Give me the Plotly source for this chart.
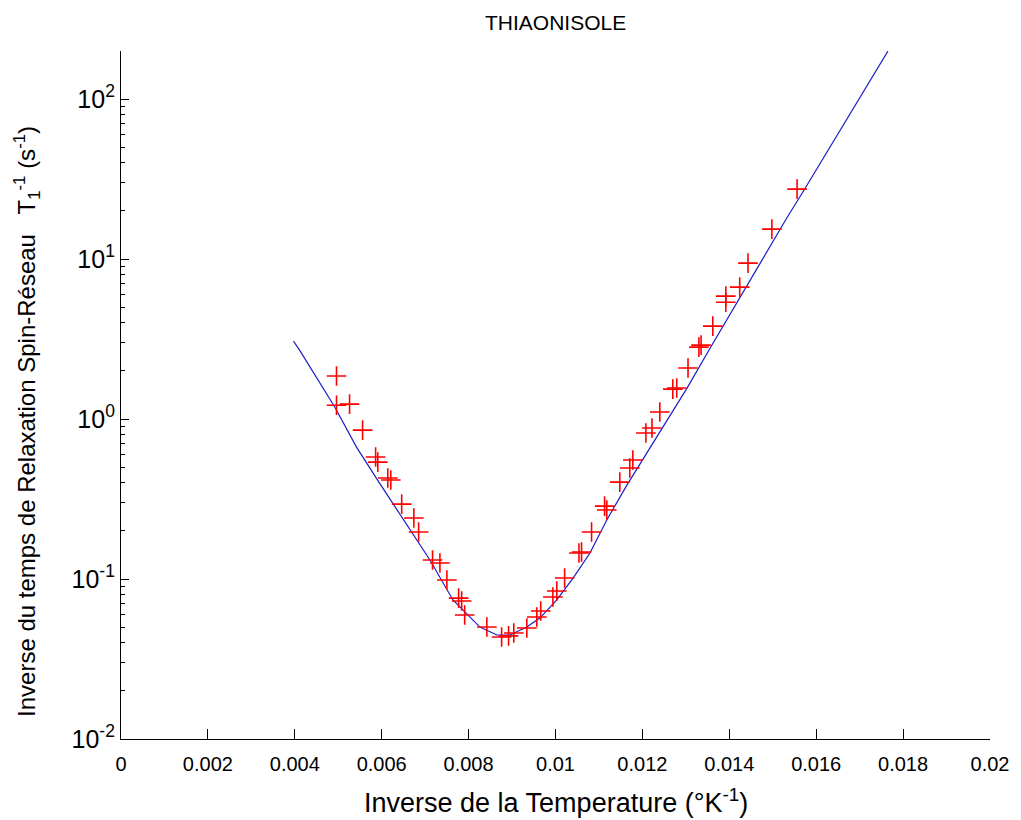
import plotly.graph_objects as go

# Measured relaxation rates (1/T1, s^-1) versus inverse temperature (1/K)
inv_temp = [
    0.00496, 0.00496, 0.00526, 0.00556, 0.00586, 0.00591, 0.00614, 0.00621,
    0.00646, 0.00674, 0.00685, 0.00717, 0.00734, 0.00750, 0.00777, 0.00784,
    0.00791, 0.00842, 0.00876, 0.00892, 0.00904, 0.00934, 0.00957, 0.00966,
    0.00994, 0.01003, 0.01021, 0.01054, 0.01060, 0.01083, 0.01113, 0.01118,
    0.01148, 0.01171, 0.01178, 0.01208, 0.01222, 0.01240, 0.01270, 0.01279,
    0.01305, 0.01330, 0.01335, 0.01362, 0.01392, 0.01392, 0.01424, 0.01443,
    0.01498, 0.01556,
]
rate = [
    1.86, 1.22, 1.24, 0.853, 0.579, 0.538, 0.428, 0.416,
    0.294, 0.241, 0.197, 0.1315, 0.126, 0.0986, 0.076, 0.0729,
    0.0596, 0.0501, 0.0434, 0.0441, 0.046, 0.0494, 0.0579, 0.0631,
    0.0772, 0.0841, 0.1014, 0.1454, 0.1476, 0.197, 0.2858, 0.270,
    0.4036, 0.4943, 0.5546, 0.818, 0.879, 1.107, 1.54, 1.563,
    2.084, 2.818, 2.90, 3.81, 5.38, 5.87, 6.68, 9.44,
    15.4, 27.4,
]

# Fitted model curve
fit_x = [
    0.00397, 0.00411, 0.00492, 0.00542, 0.00595, 0.00641, 0.00681, 0.00711,
    0.00764, 0.00826, 0.00865, 0.00895, 0.00934, 0.00964, 0.01003, 0.01040,
    0.01079, 0.01118, 0.01164, 0.01240, 0.01302, 0.01355, 0.01417, 0.01500,
    0.01533, 0.01569, 0.01632, 0.01765,
]
fit_y = [
    3.07, 2.70, 1.19, 0.668, 0.398, 0.2585, 0.1754, 0.1315,
    0.0740, 0.0501, 0.0447, 0.0447, 0.0501, 0.0570, 0.0740, 0.1010,
    0.1450, 0.234, 0.385, 0.832, 1.55, 2.75, 5.31, 12.9,
    18.2, 26.2, 50.5, 199.5,
]

x_ticks = [0, 0.002, 0.004, 0.006, 0.008, 0.01, 0.012, 0.014, 0.016, 0.018, 0.02]
x_tick_text = ["0", "0.002", "0.004", "0.006", "0.008", "0.01", "0.012",
               "0.014", "0.016", "0.018", "0.02"]
y_ticks = [0.01, 0.1, 1, 10, 100]
y_tick_text = ["10<sup>-2</sup>", "10<sup>-1</sup>", "10<sup>0</sup>",
               "10<sup>1</sup>", "10<sup>2</sup>"]
y_minor = [m * d for d in (0.01, 0.1, 1, 10, 100) for m in range(2, 10)
           if m * d <= 200]

FAMILY = "Liberation Sans, Arial, sans-serif"

fig = go.Figure()
fig.add_trace(go.Scatter(
    x=fit_x, y=fit_y, mode="lines",
    line=dict(color="#1c1cc8", width=1.2),
    showlegend=False,
))
fig.add_trace(go.Scatter(
    x=inv_temp, y=rate, mode="markers",
    marker=dict(symbol="cross-thin", size=14, color="red",
                line=dict(color="red", width=1.6)),
    showlegend=False,
))

fig.update_layout(
    width=1021, height=820,
    margin=dict(l=121, r=31, t=51, b=81),
    paper_bgcolor="white", plot_bgcolor="white",
    xaxis=dict(
        range=[0, 0.02], tickvals=x_ticks, ticktext=x_tick_text,
        ticks="inside", ticklen=10, tickwidth=1, tickcolor="black",
        showline=True, linecolor="black", linewidth=1.2, mirror=False,
        showgrid=False, zeroline=False, ticklabelstandoff=7,
        tickfont=dict(family=FAMILY, size=20, color="black"),
    ),
    yaxis=dict(
        type="log", range=[-2, 2.30103], tickvals=y_ticks, ticktext=y_tick_text,
        ticks="inside", ticklen=8, tickwidth=1, tickcolor="black",
        showline=True, linecolor="black", linewidth=1.2, mirror=False,
        showgrid=False, zeroline=False,
        tickfont=dict(family=FAMILY, size=25, color="black"),
        minor=dict(tickvals=y_minor, ticks="inside", ticklen=4,
                   tickcolor="black", showgrid=False),
    ),
    annotations=[
        dict(text="THIAONISOLE", x=0.5, y=1.042, xref="paper", yref="paper",
             xanchor="center", yanchor="middle", showarrow=False,
             font=dict(family=FAMILY, size=21, color="black")),
        dict(text="Inverse de la Temperature (°K<sup>-1</sup>)", x=0.5, y=-0.09,
             xref="paper", yref="paper", xanchor="center", yanchor="middle",
             showarrow=False, font=dict(family=FAMILY, size=27, color="black")),
        dict(text="Inverse du temps de Relaxation Spin-Réseau   T<sub>1</sub><sup>-1</sup> (s<sup>-1</sup>)",
             x=-0.108, y=0.461, xref="paper", yref="paper", textangle=-90,
             xanchor="center", yanchor="middle", showarrow=False,
             font=dict(family=FAMILY, size=24, color="black")),
    ],
)

fig.write_html("out.html")
